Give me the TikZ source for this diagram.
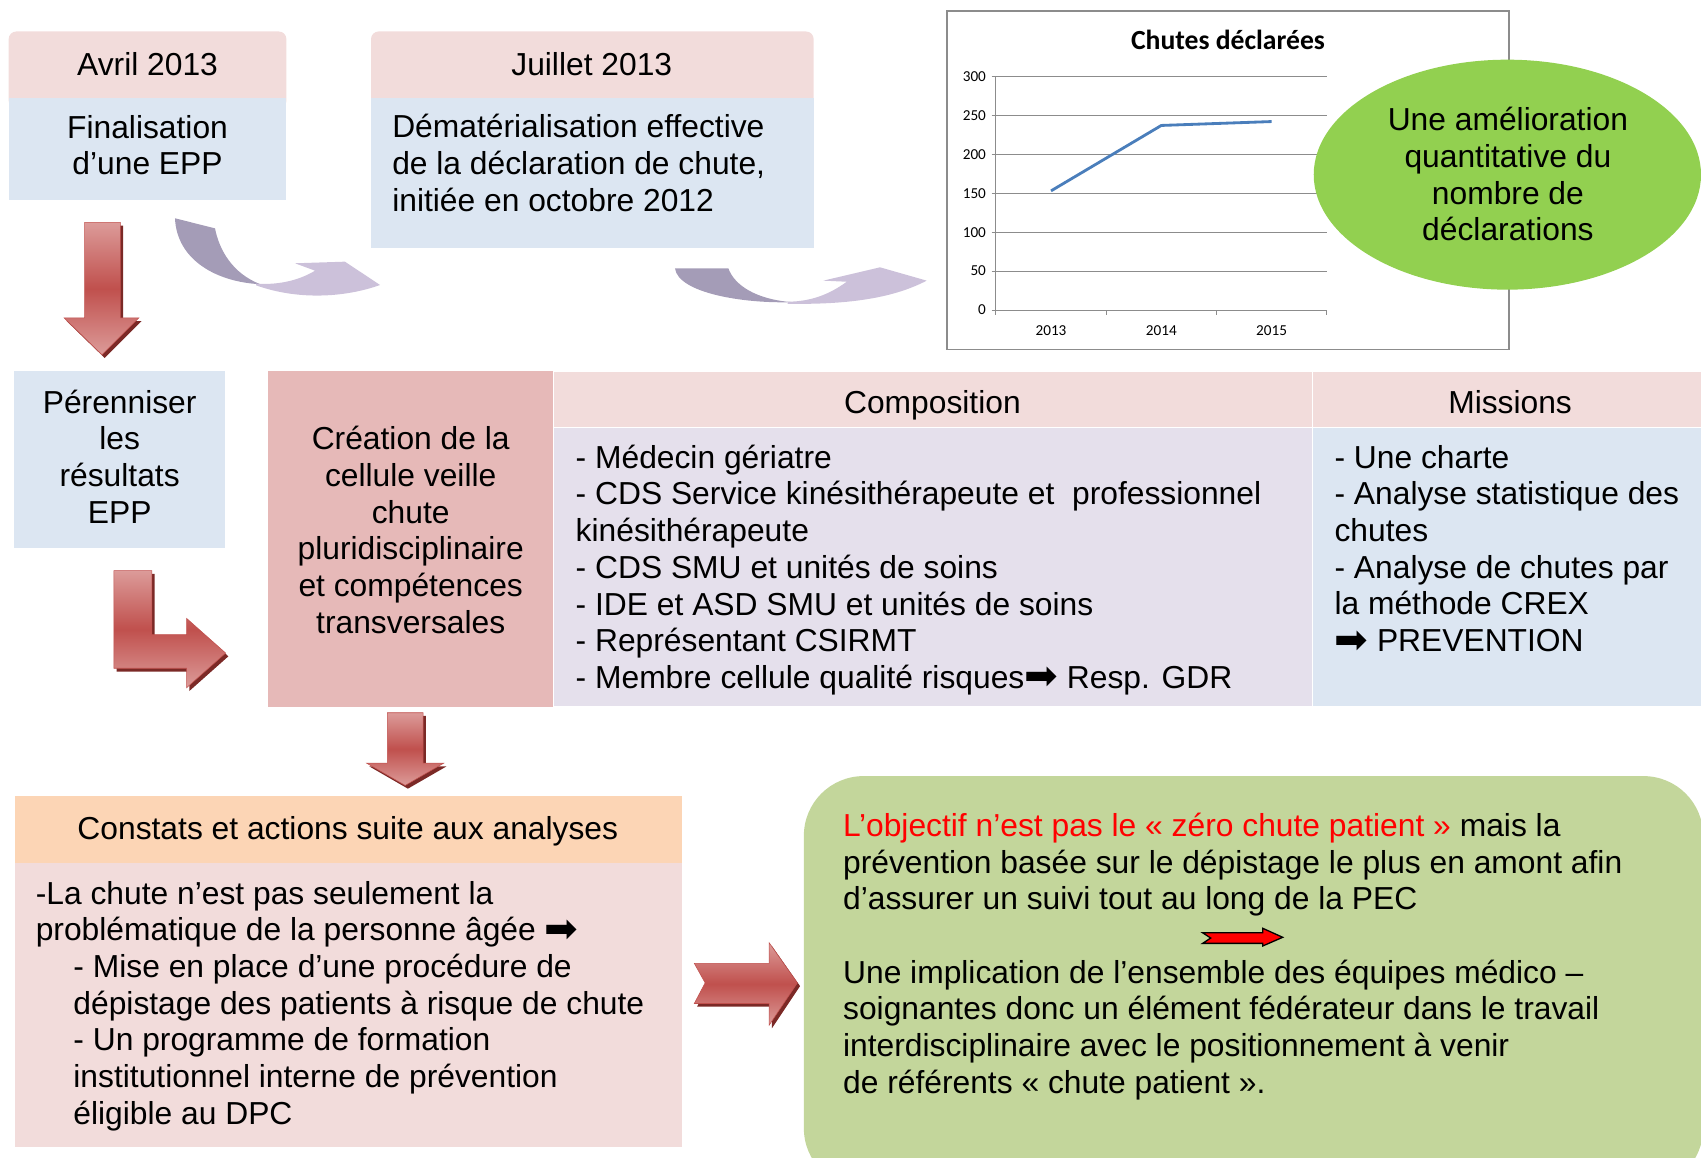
\documentclass[tikz,border=0pt]{standalone}
\usepackage{fontspec}
\setmainfont{Liberation Sans}
\newfontfamily\chartfont{Carlito}
\newfontfamily\arrowfont{DejaVu Sans}
\usepackage{tikz}
\usetikzlibrary{shapes.geometric, positioning, calc}
\definecolor{headpink}{HTML}{F2DCDB}
\definecolor{bodyblue}{HTML}{DCE6F2}
\definecolor{cellpink}{HTML}{E6B9B8}
\definecolor{complilac}{HTML}{E5E0EC}
\definecolor{constpeach}{HTML}{FCD5B5}
\definecolor{boxgreen}{HTML}{C3D69B}
\definecolor{ellgreen}{HTML}{92D050}
\definecolor{arrlight}{HTML}{DC9B99}
\definecolor{arrdark}{HTML}{C0504D}
\definecolor{arrshadow}{HTML}{7B2926}
\definecolor{curvdark}{HTML}{A49CB7}
\definecolor{curvlight}{HTML}{CCC1DA}
\definecolor{chartblue}{HTML}{4A7EBB}
\definecolor{chartgrey}{HTML}{8C8C8C}
\newcommand{\fleche}{{\arrowfont\fontsize{37}{33.8}\selectfont\raisebox{-1.5pt}{➡}}}

\begin{document}
\begin{tikzpicture}[x=1pt, y=-1pt, every node/.style={inner sep=0pt},
	txt/.style={font=\fontsize{29.3}{33.8}\selectfont, yshift=-1.5pt},
	ctr/.style={txt, align=center, anchor=base},
	lft/.style={txt, align=left, anchor=base west},
	cell/.style={draw=white, line width=1pt},
	redarrow/.style={top color=arrlight, bottom color=arrlight, middle color=arrdark, draw=arrdark, line width=0.5pt},
	arrshade/.style={fill=arrshadow, shift={(2.5,3)}},
	chartlbl/.style={font=\chartfont\fontsize{14}{16}\selectfont}]
	\useasboundingbox (0,0) rectangle (1568,1066.6);
	\pgfmathsetmacro{\gx}{918}
	\pgfmathsetmacro{\gy}{285.8}
	\pgfmathsetmacro{\gw}{305}
	\pgfmathsetmacro{\gs}{0.718}
	
	\fill[headpink, rounded corners=7pt] (8,29) rectangle (264,100);
	\fill[bodyblue] (8,90) rectangle (264,184);
	\node[ctr] (avril) at (136,68.2) {Avril 2013};
	\node[ctr] (finalisation) at (136,159.8) {Finalisation\\d’une EPP};
	
	\fill[headpink, rounded corners=7pt] (342,29) rectangle (750,100);
	\fill[bodyblue] (342,90) rectangle (750,229);
	\node[ctr] (juillet) at (545.5,68.2) {Juillet 2013};
	\node[lft] (demat) at (361.4,193) {Dématérialisation effective\\de la déclaration de chute,\\initiée en octobre 2012};
	
	\fill[curvdark] (161.3,201.2) -- (198.2,210.5) .. controls (202,230) and (214,252) .. (240,262) .. controls (200,260) and (163,240) .. cycle;
	\fill[curvlight] (236,261.5) .. controls (260,263) and (278,257) .. (290.4,249.5) -- (271.9,242.7) -- (318,241.2) -- (350.3,262.7) .. controls (322,273) and (278,278) .. (236,263) -- cycle;
	
	\fill[curvdark] (622.2,247.3) -- (671.4,247.3) .. controls (677,263) and (697,276) .. (730,278.5) .. controls (685,280) and (625,270) .. cycle;
	\fill[curvlight] (726,278.1) .. controls (748,278) and (765,271) .. (780.5,259.7) -- (758.9,258.7) -- (811.2,246.4) -- (854.2,258.7) .. controls (825,274) and (785,281) .. (726,280) -- cycle;
	
	\draw[chartgrey, line width=1.2pt] (873,10) rectangle (1391,322);
	\node[anchor=base, font=\chartfont\bfseries\fontsize{25.5}{28}\selectfont] (charttitle) at (1132,45.5) {Chutes déclarées};
	\draw[chartgrey, line width=0.7pt] (\gx-4,\gy-300*\gs) -- (\gx+\gw,\gy-300*\gs);
	\draw[chartgrey, line width=0.7pt] (\gx-4,\gy-250*\gs) -- (\gx+\gw,\gy-250*\gs);
	\draw[chartgrey, line width=0.7pt] (\gx-4,\gy-200*\gs) -- (\gx+\gw,\gy-200*\gs);
	\draw[chartgrey, line width=0.7pt] (\gx-4,\gy-150*\gs) -- (\gx+\gw,\gy-150*\gs);
	\draw[chartgrey, line width=0.7pt] (\gx-4,\gy-100*\gs) -- (\gx+\gw,\gy-100*\gs);
	\draw[chartgrey, line width=0.7pt] (\gx-4,\gy-50*\gs) -- (\gx+\gw,\gy-50*\gs);
	\draw[chartgrey, line width=0.9pt] (\gx-4,\gy) -- (\gx+\gw,\gy);
	\draw[chartgrey, line width=0.9pt] (\gx,\gy-300*\gs) -- (\gx,\gy+5);
	\draw[chartgrey, line width=0.9pt] (\gx+\gw/3,\gy) -- ++(0,5);
	\draw[chartgrey, line width=0.9pt] (\gx+2*\gw/3,\gy) -- ++(0,5);
	\draw[chartgrey, line width=0.9pt] (\gx+\gw,\gy) -- ++(0,5);
	\node[chartlbl, anchor=east] (l300) at (\gx-9,\gy-300*\gs) {300};
	\node[chartlbl, anchor=east] (l250) at (\gx-9,\gy-250*\gs) {250};
	\node[chartlbl, anchor=east] (l200) at (\gx-9,\gy-200*\gs) {200};
	\node[chartlbl, anchor=east] (l150) at (\gx-9,\gy-150*\gs) {150};
	\node[chartlbl, anchor=east] (l100) at (\gx-9,\gy-100*\gs) {100};
	\node[chartlbl, anchor=east] (l50) at (\gx-9,\gy-50*\gs) {50};
	\node[chartlbl, anchor=east] (l0) at (\gx-9,\gy) {0};
	\node[chartlbl, anchor=base] (y2013) at (\gx+\gw/6,308.8) {2013};
	\node[chartlbl, anchor=base] (y2014) at (\gx+\gw/2,308.8) {2014};
	\node[chartlbl, anchor=base] (y2015) at (\gx+5*\gw/6,308.8) {2015};
	\draw[chartblue, line width=2.6pt, line join=round] (\gx+\gw/6,\gy-153*\gs) -- (\gx+\gw/2,\gy-237*\gs) -- (\gx+5*\gw/6,\gy-242*\gs);
	
	\node[ellipse, fill=ellgreen, minimum width=357pt, minimum height=212pt] (amelioration) at (1389.5,161) {};
	\node[ctr] (ameliortxt) at (1390,220.6) {Une amélioration\\quantitative du\\nombre de\\déclarations};
	
	\fill[arrshade] (78,205) -- (111,205) -- (111,293) -- (128,293) -- (94,327) -- (59,293) -- (78,293) -- cycle;
	\draw[redarrow] (78,205) -- (111,205) -- (111,293) -- (128,293) -- (94,327) -- (59,293) -- (78,293) -- cycle;
	
	\fill[bodyblue] (12.5,342) rectangle (207.5,505);
	\node[ctr] (perenniser) at (110.3,480.9) {Pérenniser\\les\\résultats\\EPP};
	
	\fill[arrshade] (105,526) -- (140,526) -- (140,585) -- (172,585) -- (172,570) -- (208,602) -- (172,634) -- (172,616) -- (105,616) -- cycle;
	\draw[redarrow] (105,526) -- (140,526) -- (140,585) -- (172,585) -- (172,570) -- (208,602) -- (172,634) -- (172,616) -- (105,616) -- cycle;
	
	\fill[cellpink] (247,342) rectangle (510,651.4);
	\node[ctr] (creation) at (378.6,582.3) {Création de la\\cellule veille\\chute\\pluridisciplinaire\\et compétences\\transversales};
	
	\filldraw[cell, fill=headpink] (510,342) rectangle (1209.6,394.2);
	\filldraw[cell, fill=complilac] (510,394.2) rectangle (1209.6,651.4);
	\filldraw[cell, fill=headpink] (1209.6,342) rectangle (1570,394.2);
	\filldraw[cell, fill=bodyblue] (1209.6,394.2) rectangle (1570,651.4);
	\node[ctr] (composition) at (859.5,379.5) {Composition};
	\node[ctr] (missions) at (1392,379.5) {Missions};
	\node[lft] (membres) at (530.5,633) {- Médecin gériatre\\- CDS Service kinésithérapeute et \ professionnel\\kinésithérapeute\\- CDS SMU et unités de soins\\- IDE et ASD SMU et unités de soins\\- Représentant CSIRMT\\- Membre cellule qualité risques\fleche{} Resp. GDR};
	\node[lft] (taches) at (1230,599.2) {- Une charte\\- Analyse statistique des\\chutes\\- Analyse de chutes par\\la méthode CREX\\\fleche{} PREVENTION};
	
	\fill[arrshade] (357,657) -- (390,657) -- (390,703.5) -- (409,703.5) -- (373.5,724) -- (338,703.5) -- (357,703.5) -- cycle;
	\draw[redarrow] (357,657) -- (390,657) -- (390,703.5) -- (409,703.5) -- (373.5,724) -- (338,703.5) -- (357,703.5) -- cycle;
	
	\fill[constpeach] (13.5,733.8) rectangle (629,795.8);
	\fill[headpink] (13.5,795.8) rectangle (629,1057);
	\node[ctr] (constats) at (320.6,772.8) {Constats et actions suite aux analyses};
	\node[lft] (actions) at (32.8,1034.9) {-La chute n’est pas seulement la\\problématique de la personne âgée \fleche\\\hspace*{34.7pt}- Mise en place d’une procédure de\\\hspace*{34.7pt}dépistage des patients à risque de chute\\\hspace*{34.7pt}- Un programme de formation\\\hspace*{34.7pt}institutionnel interne de prévention\\\hspace*{34.7pt}éligible au DPC};
	
	\fill[arrshade] (640,888) -- (709,888) -- (709,869) -- (735,906) -- (709,945) -- (709,925) -- (640,925) -- (650,906) -- cycle;
	\draw[redarrow] (640,888) -- (709,888) -- (709,869) -- (735,906) -- (709,945) -- (709,925) -- (640,925) -- (650,906) -- cycle;
	
	\fill[boxgreen, rounded corners=55pt] (741,715.4) rectangle (1570,1095);
	\node[lft] (objectif) at (777,1006.3) {{\color{red}L’objectif n’est pas le « zéro chute patient »} mais la\\prévention basée sur le dépistage le plus en amont afin\\d’assurer un suivi tout au long de la PEC\\[33.8pt]Une implication de l’ensemble des équipes médico –\\soignantes donc un élément fédérateur dans le travail\\interdisciplinaire avec le positionnement à venir\\de référents « chute patient ».};
	\draw[fill=red, line width=1.2pt] (1108.6,859.8) -- (1164,859.8) -- (1164,855.7) -- (1182.4,864) -- (1164,872) -- (1164,869.6) -- (1108.6,869.6) -- (1116,864.7) -- cycle;
\end{tikzpicture}
\end{document}
